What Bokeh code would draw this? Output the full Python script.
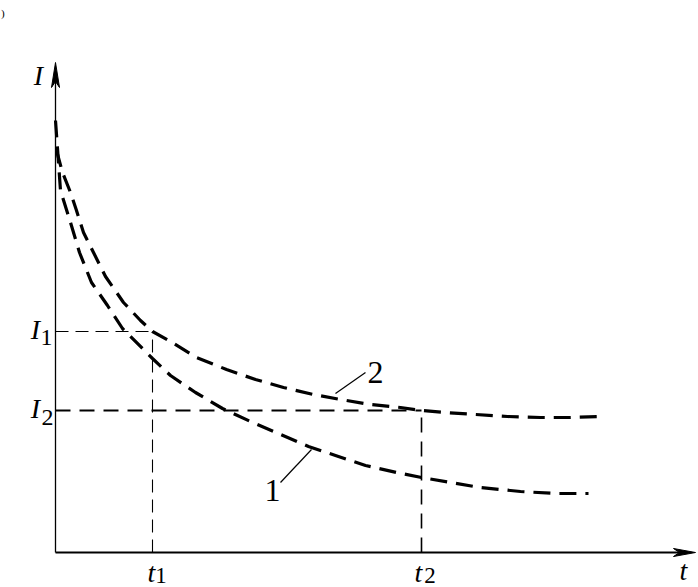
from bokeh.plotting import figure
from bokeh.models import Range1d
from bokeh.core.properties import value
from bokeh.embed import file_html
from bokeh.resources import INLINE

# Curve 1 (lower) and curve 2 (upper)
t_curve1 = [0.00, 0.05, 0.15, 0.24, 0.36, 0.52, 0.67, 0.97, 1.15, 1.40, 1.67, 1.95,
            2.23, 2.53, 2.80, 3.10, 3.41, 3.66, 3.95, 4.25, 4.65, 5.00, 5.33]
I_curve1 = [4.32, 3.62, 3.30, 3.00, 2.70, 2.47, 2.24, 1.94, 1.77, 1.60, 1.44, 1.31,
            1.19, 1.06, 0.97, 0.87, 0.80, 0.75, 0.70, 0.65, 0.61, 0.59, 0.59]

t_curve2 = [0.01, 0.07, 0.15, 0.21, 0.28, 0.38, 0.50, 0.68, 0.85, 0.97, 1.15, 1.41, 1.71,
            2.00, 2.28, 2.58, 2.85, 3.15, 3.45, 3.66, 3.90, 4.20, 4.52, 4.85, 5.15, 5.48]
I_curve2 = [4.02, 3.80, 3.60, 3.42, 3.20, 3.00, 2.76, 2.50, 2.32, 2.21, 2.11, 1.95, 1.83,
            1.73, 1.65, 1.58, 1.53, 1.48, 1.45, 1.42, 1.40, 1.38, 1.36, 1.35, 1.35, 1.36]

t1, t2 = 0.97, 3.66
I1, I2 = 2.21, 1.42
t_axis_end = 6.40
I_axis_end = 4.90

curve_labels = ["1", "2"]
curve_label_t = [2.17, 3.20]
curve_label_I = [0.62, 1.80]
leader1_t = [2.56, 2.25]
leader1_I = [1.03, 0.70]
leader2_t = [2.80, 3.10]
leader2_I = [1.59, 1.80]

SERIF = value("Liberation Serif")

p = figure(width=698, height=587, output_backend="svg", toolbar_location=None,
           x_range=Range1d(-0.55, 6.43), y_range=Range1d(-0.35, 5.52),
           x_axis_location=None, y_axis_location=None, min_border=0)
p.grid.visible = False
p.outline_line_color = None
p.background_fill_color = "white"

# axes
p.line([0, 0], [0, I_axis_end - 0.15], line_color="black", line_width=1.3)
p.line([0, t_axis_end - 0.15], [0, 0], line_color="black", line_width=2.2)
# arrow heads (100 px per unit)
p.patch([0, 0.04, 0, -0.04], [I_axis_end, I_axis_end - 0.25, I_axis_end - 0.19, I_axis_end - 0.25],
        color="black", line_width=1)
p.patch([t_axis_end, t_axis_end - 0.22, t_axis_end - 0.16, t_axis_end - 0.22], [0, 0.04, 0, -0.04],
        color="black", line_width=1)

# reference dashed lines
p.line([0, t1], [I1, I1], line_color="black", line_width=1.1, line_dash="13 7")
p.line([t1, t1], [0, I1], line_color="black", line_width=1.1, line_dash="13 7")
p.line([0, t2], [I2, I2], line_color="black", line_width=1.8, line_dash="15 9")
p.line([t2, t2], [0, I2], line_color="black", line_width=1.6, line_dash="15 9")

# curves
p.line(t_curve1, I_curve1, line_color="black", line_width=3.2, line_dash="17 9")
p.line(t_curve2, I_curve2, line_color="black", line_width=3.2, line_dash="17 9")

# leaders
p.line(leader1_t, leader1_I, line_color="black", line_width=1.2)
p.line(leader2_t, leader2_I, line_color="black", line_width=1.2)

p.text(x=curve_label_t, y=curve_label_I, text=curve_labels, text_font=SERIF,
       text_font_size="32px", text_align="center", text_baseline="alphabetic")

# axis labels
def lab(x, y, s, size, italic, align="center"):
    p.text(x=[x], y=[y], text=[s], text_font=SERIF, text_font_size=size,
           text_font_style="italic" if italic else "normal",
           text_align=align, text_baseline="alphabetic")

lab(-0.17, 4.77, "I", "28px", True)
lab(-0.20, I1 + 0.02, "I", "28px", True)
lab(-0.09, I1 - 0.06, "1", "24px", False)
lab(-0.20, I2 + 0.02, "I", "28px", True)
lab(-0.08, I2 - 0.07, "2", "24px", False)
lab(6.28, -0.18, "t", "28px", True)
lab(t1 - 0.01, -0.20, "t", "28px", True)
lab(t1 + 0.085, -0.23, "1", "23px", False)
lab(t2 - 0.03, -0.20, "t", "28px", True)
lab(t2 + 0.085, -0.23, "2", "23px", False)
lab(-0.545, 5.40, ")", "11px", False, "left")

open("out.html", "w").write(file_html(p, INLINE))
